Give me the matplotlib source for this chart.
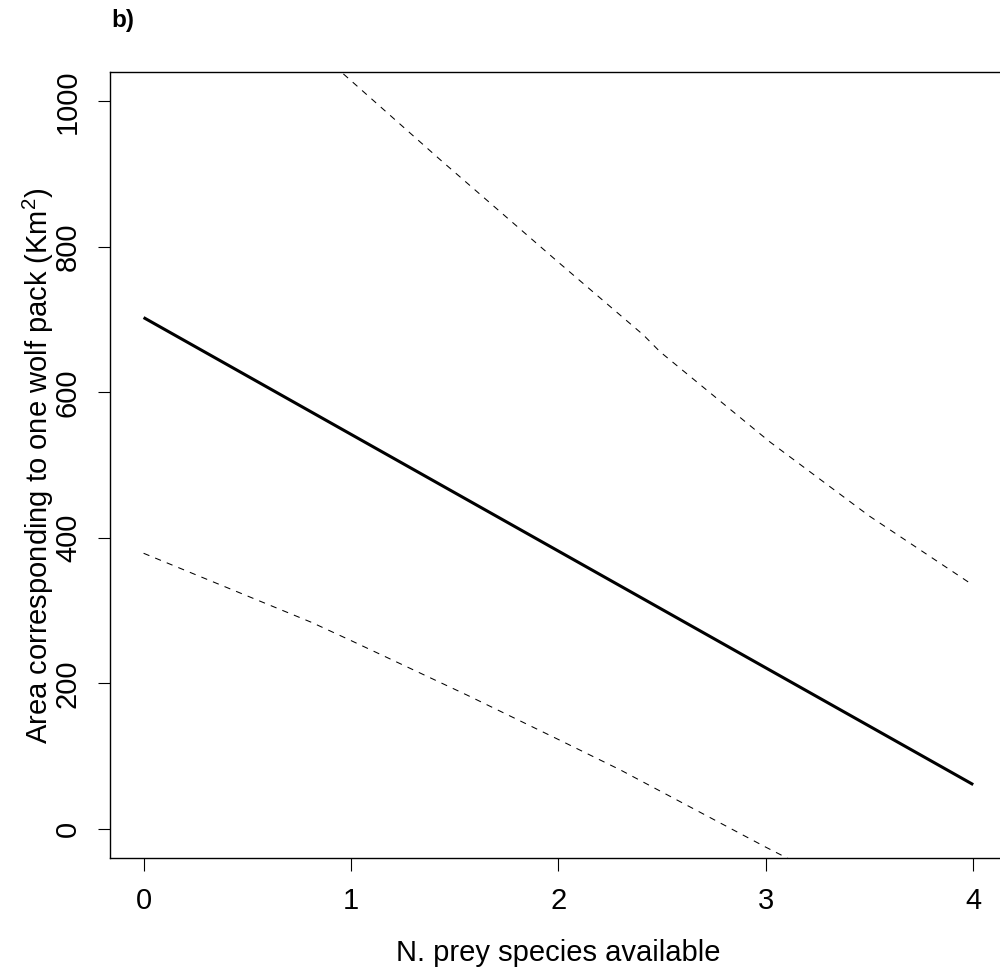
import numpy as np
import matplotlib
matplotlib.use('Agg')
import matplotlib.pyplot as plt

plt.rcParams['font.family'] = ['Liberation Sans', 'DejaVu Sans']
plt.rcParams['mathtext.fontset'] = 'custom'
plt.rcParams['mathtext.rm'] = 'Liberation Sans'
plt.rcParams['mathtext.it'] = 'Liberation Sans:italic'

# Fitted line (N. prey species -> area per pack)
fit_x = [0, 4]
fit_y = [703, 61]

# Upper confidence limit (clipped at the top of the plot)
upper_x = [0.0, 0.955, 1.43, 2.0, 2.41, 2.49, 3.02, 3.5, 4.0]
upper_y = [1283, 1040, 920, 779, 679, 656, 532, 430, 335]

# Lower confidence limit (clipped at the bottom of the plot)
lower_x = [0.0, 0.81, 1.0, 1.56, 2.0, 2.30, 3.0, 3.11, 4.0]
lower_y = [379, 284, 259, 184, 123, 81, -25, -41, -175]

x_ticks = [0, 1, 2, 3, 4]
y_ticks = [0, 200, 400, 600, 800, 1000]


def main():
    fig = plt.figure(figsize=(10.0, 9.73), dpi=100)
    ax = fig.add_axes([0.1104, 0.1181, 0.896, 0.8075])

    ax.plot(fit_x, fit_y, color='black', linewidth=2.2, solid_capstyle='butt')
    ax.plot(upper_x, upper_y, color='black', linewidth=0.75, dashes=(6, 6))
    ax.plot(lower_x, lower_y, color='black', linewidth=0.75, dashes=(6, 6))

    ax.set_xlim(-0.16, 4.16)
    ax.set_ylim(-40, 1040)
    ax.set_xticks(x_ticks)
    ax.set_yticks(y_ticks)
    ax.set_yticklabels([str(v) for v in y_ticks], rotation=90, va='center')
    ax.tick_params(direction='out', length=9, width=0.8, pad=11.5,
                   labelsize=21, colors='black')
    for sp in ax.spines.values():
        sp.set_linewidth(1.0)

    ax.set_xlabel('N. prey species available', fontsize=21, va='center')
    ax.xaxis.set_label_coords(0.5, -0.1208)
    ax.set_ylabel('Area corresponding to one wolf pack (Km$^2$)',
                  fontsize=21, va='center', ha='center')
    ax.yaxis.set_label_coords(-0.0808, 0.5)

    fig.text(0.111, 1 - 9 / 973, 'b)', fontsize=17.5, fontweight='bold',
             ha='left', va='top')

    fig.savefig('out.png', dpi=100)
    plt.close()


if __name__ == "__main__":
    main()
